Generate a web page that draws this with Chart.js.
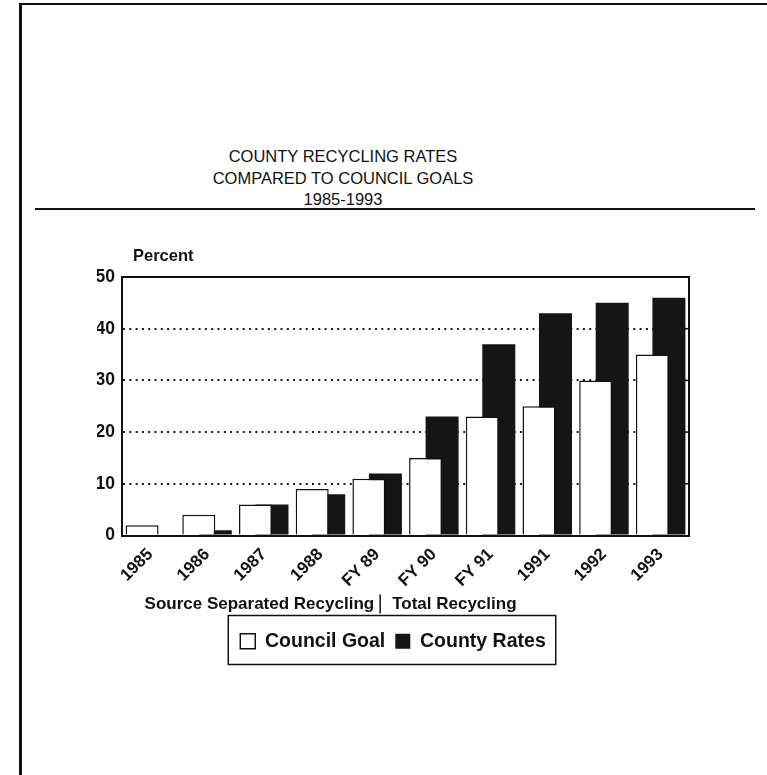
<!DOCTYPE html>
<html>
<head>
<meta charset="utf-8">
<title>County Recycling Rates Compared to Council Goals</title>
<script src="https://cdn.jsdelivr.net/npm/chart.js@4.4.0/dist/chart.umd.min.js"></script>
<style>
  html, body { margin: 0; padding: 0; background: #fff; }
  body { width: 767px; height: 775px; position: relative; overflow: hidden;
         font-family: "Liberation Sans", Arial, Helvetica, sans-serif; color: #111; }
  #pageTop  { position: absolute; left: 19px; top: 3px; width: 748px; height: 2px; background: #111; }
  #pageLeft { position: absolute; left: 19px; top: 3px; width: 3px; height: 772px; background: #111; }
  #title { position: absolute; left: 143px; top: 146px; width: 400px; text-align: center;
           font-size: 16.5px; line-height: 21.5px; }
  #rule { position: absolute; left: 35px; top: 208px; width: 720px; height: 2px; background: #111; }
  #wrap { position: absolute; left: 0; top: 230px; width: 767px; height: 450px; }
</style>
</head>
<body>
<div id="pageTop"></div>
<div id="pageLeft"></div>
<div id="title">COUNTY RECYCLING RATES<br>COMPARED TO COUNCIL GOALS<br>1985-1993</div>
<div id="rule"></div>
<div id="wrap"><canvas id="chart" width="767" height="450"></canvas></div>
<script>
// Recycling rates (percent) by period
const categories   = ['1985', '1986', '1987', '1988', 'FY 89', 'FY 90', 'FY 91', '1991', '1992', '1993'];
const councilGoal  = [2, 4, 6, 9, 11, 15, 23, 25, 30, 35];
const countyRates  = [0, 1, 6, 8, 12, 23, 37, 43, 45, 46];
const seriesNames  = ['Council Goal', 'County Rates'];
const yTicks       = [0, 10, 20, 30, 40, 50];
const yAxisLabel   = 'Percent';
const periodLabels = ['Source Separated Recycling', 'Total Recycling'];

const INK = '#111';
const BOLD = '"Liberation Sans", Arial, Helvetica, sans-serif';

// Top/right frame of the plot, right-edge ticks, axis caption, period notes and legend frame
const frameAndNotes = {
  id: 'frameAndNotes',
  afterDatasetsDraw(chart) {
    const { ctx, chartArea: a, scales: { y } } = chart;
    ctx.save();
    ctx.strokeStyle = INK;
    ctx.lineWidth = 2;
    ctx.beginPath();
    ctx.moveTo(a.left - 1, a.top);
    ctx.lineTo(a.right, a.top);
    ctx.lineTo(a.right, a.bottom + 1);
    ctx.stroke();
    ctx.lineWidth = 1.5;
    y.ticks.forEach(t => {
      if (t.value > y.min && t.value < y.max) {
        const py = y.getPixelForValue(t.value);
        ctx.beginPath();
        ctx.moveTo(a.right - 4, py);
        ctx.lineTo(a.right, py);
        ctx.stroke();
      }
    });
    ctx.restore();
  },
  afterDraw(chart) {
    const { ctx, chartArea: a, scales: { x } } = chart;
    ctx.save();
    ctx.fillStyle = INK;
    ctx.textBaseline = 'middle';

    // axis caption above the value axis
    ctx.font = 'bold 16.5px ' + BOLD;
    ctx.textAlign = 'left';
    ctx.fillText(yAxisLabel, a.left + 11, a.top - 21);

    // period notes under the category labels
    const sepX = x.getPixelForValue(4) + 3;
    const noteY = a.bottom + 69;
    ctx.font = 'bold 17px ' + BOLD;
    ctx.textAlign = 'right';
    ctx.fillText(periodLabels[0], sepX - 6, noteY);
    ctx.textAlign = 'left';
    ctx.fillText(periodLabels[1], sepX + 12, noteY);
    ctx.strokeStyle = INK;
    ctx.lineWidth = 1.5;
    ctx.beginPath();
    ctx.moveTo(sepX, noteY - 10);
    ctx.lineTo(sepX, noteY + 9);
    ctx.stroke();

    // frame around the legend
    const lg = chart.legend;
    const hb = lg.legendHitBoxes;
    if (hb && hb.length) {
      const last = hb[hb.length - 1];
      const left = hb[0].left - 12;
      const right = last.left + last.width + 10;
      const top = lg.top - 6;
      const bottom = lg.top + 43;
      ctx.lineWidth = 1.5;
      ctx.strokeRect(left, top, right - left, bottom - top);
    }
    ctx.restore();
  }
};

new Chart(document.getElementById('chart'), {
  type: 'bar',
  data: {
    labels: categories,
    datasets: [
      {
        label: seriesNames[0],
        data: councilGoal,
        backgroundColor: '#ffffff',
        borderColor: INK,
        borderWidth: 1.5,
        categoryPercentage: 0.582,
        barPercentage: 2.0
      },
      {
        label: seriesNames[1],
        data: countyRates,
        backgroundColor: '#151515',
        borderColor: '#151515',
        borderWidth: 0,
        categoryPercentage: 0.582,
        barPercentage: 2.0
      }
    ]
  },
  options: {
    responsive: false,
    animation: false,
    events: [],
    layout: { padding: { left: 97, right: 78, top: 47, bottom: 19 } },
    plugins: {
      title: { display: false },
      tooltip: { enabled: false },
      legend: {
        display: true,
        position: 'bottom',
        labels: {
          color: INK,
          font: { family: BOLD, size: 19.5, weight: 'bold' },
          boxWidth: 15,
          boxHeight: 15,
          padding: 10
        }
      }
    },
    scales: {
      x: {
        grid: { display: false, drawTicks: false },
        border: { display: true, color: INK, width: 2 },
        ticks: {
          color: INK,
          font: { family: BOLD, size: 17, weight: 'bold' },
          minRotation: 45,
          maxRotation: 45,
          autoSkip: false,
          padding: 9
        },
        afterFit(scale) { scale.height = 86; }
      },
      y: {
        min: yTicks[0],
        max: yTicks[yTicks.length - 1],
        afterBuildTicks(scale) { scale.ticks = yTicks.map(v => ({ value: v })); },
        grid: {
          drawTicks: false,
          lineWidth: 2,
          color: c => (c.tick && c.tick.value > 0 && c.tick.value < 50) ? '#1a1a1a' : 'rgba(0,0,0,0)'
        },
        border: { display: true, color: INK, width: 2, dash: [2, 4.3] },
        ticks: {
          color: INK,
          font: { family: BOLD, size: 17.5, weight: 'bold' },
          padding: 7
        },
        afterFit(scale) { scale.width = 25; }
      }
    }
  },
  plugins: [frameAndNotes]
});
</script>
</body>
</html>
